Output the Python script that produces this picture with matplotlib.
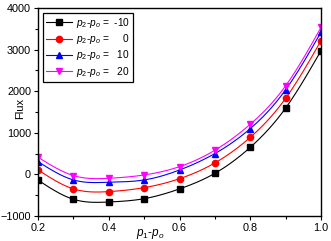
import numpy as np
import matplotlib
matplotlib.use("Agg")
import matplotlib.pyplot as plt
import matplotlib.ticker as ticker

plt.rcParams["font.family"] = ["Liberation Sans", "DejaVu Sans"]
plt.rcParams["mathtext.fontset"] = "custom"
plt.rcParams["mathtext.it"] = "Liberation Sans:italic"
plt.rcParams["mathtext.rm"] = "Liberation Sans"

x = [0.2, 0.3, 0.4, 0.5, 0.6, 0.7, 0.8, 0.9, 1.0]
flux_m10 = [-140, -600, -665, -585, -350, 25, 650, 1595, 2975]
flux_0 = [105, -350, -415, -320, -105, 275, 890, 1830, 3215]
flux_10 = [305, -135, -190, -135, 105, 500, 1100, 2035, 3420]
flux_20 = [410, -30, -95, -15, 185, 580, 1205, 2130, 3535]
labels = ["$p_2$-$p_o$ =  -10", "$p_2$-$p_o$ =     0",
          "$p_2$-$p_o$ =   10", "$p_2$-$p_o$ =   20"]


def spline(xs, ys, n=200):
    # natural cubic spline, just for drawing the smooth connecting line
    xs = np.asarray(xs, float)
    ys = np.asarray(ys, float)
    k = len(xs)
    h = np.diff(xs)
    A = np.zeros((k, k))
    b = np.zeros(k)
    A[0, 0] = A[-1, -1] = 1
    for i in range(1, k - 1):
        A[i, i - 1] = h[i - 1]
        A[i, i] = 2 * (h[i - 1] + h[i])
        A[i, i + 1] = h[i]
        b[i] = 3 * ((ys[i + 1] - ys[i]) / h[i] - (ys[i] - ys[i - 1]) / h[i - 1])
    c = np.linalg.solve(A, b)
    xx = np.linspace(xs[0], xs[-1], n)
    idx = np.clip(np.searchsorted(xs, xx) - 1, 0, k - 2)
    dx = xx - xs[idx]
    bb = (ys[idx + 1] - ys[idx]) / h[idx] - h[idx] * (2 * c[idx] + c[idx + 1]) / 3
    dd = (c[idx + 1] - c[idx]) / (3 * h[idx])
    return xx, ys[idx] + bb * dx + c[idx] * dx ** 2 + dd * dx ** 3


fig = plt.figure(figsize=(3.31, 2.41), dpi=100)
ax = fig.add_axes([0.115, 0.104, 0.855, 0.863])

series = [flux_m10, flux_0, flux_10, flux_20]
colors = ["black", "red", "blue", "magenta"]
markers = ["s", "o", "^", "v"]
for ys, c, m, lab in zip(series, colors, markers, labels):
    xx, yy = spline(x, ys)
    ax.plot(xx, yy, color=c, lw=0.8)
    ax.plot(x, ys, ls="none", marker=m, ms=4.5, color=c)
    ax.plot([], [], color=c, lw=0.8, marker=m, ms=4.5, label=lab)

ax.set_xlim(0.2, 1.0)
ax.set_ylim(-1000, 4000)
ax.set_xticks([0.2, 0.4, 0.6, 0.8, 1.0])
ax.set_yticks(range(-1000, 4001, 1000))
ax.xaxis.set_minor_locator(ticker.MultipleLocator(0.1))
ax.yaxis.set_minor_locator(ticker.MultipleLocator(500))
ax.tick_params(direction="out", length=3, width=0.8, labelsize=7.8, pad=2)
ax.tick_params(which="minor", direction="out", length=2, width=0.8)
for s in ax.spines.values():
    s.set_linewidth(1.0)
ax.set_xlabel("$p_1$-$p_o$", fontsize=8.5)
ax.xaxis.set_label_coords(0.396, -0.088)
ax.xaxis.label.set_va("center")
ax.set_ylabel("Flux", fontsize=8)
ax.yaxis.set_label_coords(-0.065, 0.515)
ax.yaxis.label.set_va("center")

h, l = ax.get_legend_handles_labels()
leg = ax.legend(h, l, loc="upper left", bbox_to_anchor=(0.017, 0.976), fontsize=7.3,
                fancybox=False, framealpha=1, edgecolor="black",
                handlelength=2.6, handletextpad=0.4, labelspacing=0.22,
                borderpad=0.3, borderaxespad=0)
leg.get_frame().set_linewidth(0.9)

fig.savefig("out.png", dpi=100)
